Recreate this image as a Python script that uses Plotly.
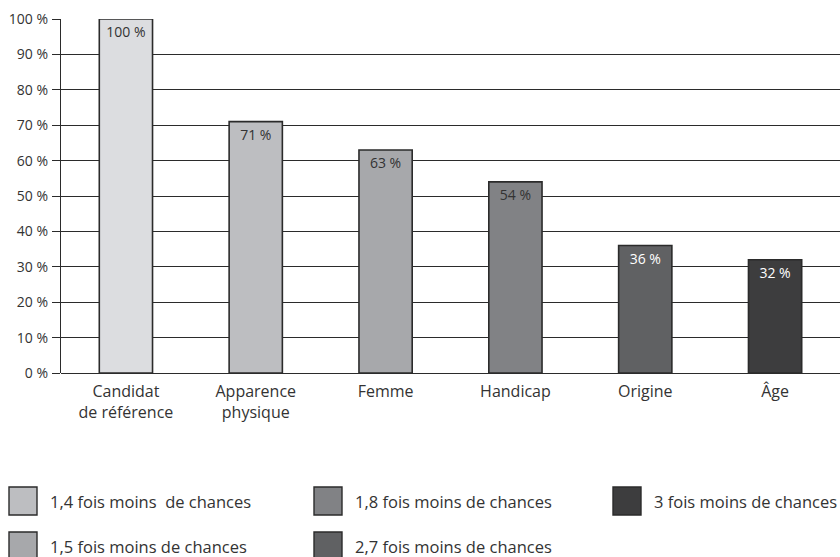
import plotly.graph_objects as go

categories = ["Candidat<br>de référence", "Apparence<br>physique", "Femme", "Handicap", "Origine", "Âge"]
values = [100, 71, 63, 54, 36, 32]
value_labels = ["100 %", "71 %", "63 %", "54 %", "36 %", "32 %"]
bar_colors = ["#dcdde0", "#bdbec1", "#a7a8ab", "#818285", "#606163", "#3d3d3e"]
text_colors = ["#333333", "#333333", "#333333", "#333333", "#ffffff", "#ffffff"]
y_tick_vals = [0, 10, 20, 30, 40, 50, 60, 70, 80, 90, 100]
y_tick_text = ["0 %", "10 %", "20 %", "30 %", "40 %", "50 %", "60 %", "70 %", "80 %", "90 %", "100 %"]
legend_labels = ["1,4 fois moins  de chances", "1,5 fois moins de chances",
                 "1,8 fois moins de chances", "2,7 fois moins de chances",
                 "3 fois moins de chances"]
legend_colors = ["#bdbec1", "#a7a8ab", "#818285", "#606163", "#3d3d3e"]

FONT = "Open Sans"
W, H = 840, 557
ML, MR, MT, MB = 61, 0, 19, 184
PW, PH = W - ML - MR, H - MT - MB


def px(x):
    return (x - ML) / PW


def py(y):
    return (H - MB - y) / PH


fig = go.Figure()
fig.add_trace(go.Bar(
    x=categories, y=values, text=value_labels,
    textposition="inside", insidetextanchor="end", textangle=0,
    constraintext="none",
    textfont=dict(family=FONT, size=14, color=text_colors),
    marker=dict(color=bar_colors, line=dict(color="#2b2b2b", width=1.6)),
    width=0.41, showlegend=False, hoverinfo="skip",
))

# legend drawn as boxes + labels (3 columns x 2 rows)
col_x = [9, 314, 613]
row_y = [487, 532]
box = 28
shapes, annots = [], []
for i, (lab, col) in enumerate(zip(legend_labels, legend_colors)):
    c, r = i // 2, i % 2
    x0, y0 = col_x[c], row_y[r]
    shapes.append(dict(type="rect", xref="paper", yref="paper",
                       x0=px(x0), x1=px(x0 + box), y0=py(y0 + box), y1=py(y0),
                       fillcolor=col, line=dict(color="#2b2b2b", width=1.4)))
    annots.append(dict(xref="paper", yref="paper", x=px(x0 + box + 11), y=py(y0 + box / 2),
                       xanchor="left", yanchor="middle", showarrow=False, text=lab,
                       font=dict(family=FONT, size=16.5, color="#333333")))

fig.update_layout(
    width=W, height=H,
    margin=dict(l=ML, r=MR, t=MT, b=MB),
    paper_bgcolor="white", plot_bgcolor="white",
    bargap=0.59,
    shapes=shapes, annotations=annots,
    xaxis=dict(range=[-0.5, 5.5], showgrid=False, showline=False, ticks="",
               tickfont=dict(family=FONT, size=16, color="#333333"),
               ticklabelstandoff=7),
    yaxis=dict(range=[0, 100], tickvals=y_tick_vals, ticktext=y_tick_text,
               showgrid=True, gridcolor="#2b2b2b", gridwidth=1.4,
               showline=True, linecolor="#2b2b2b", linewidth=1.4,
               ticks="outside", ticklen=8, tickcolor="#2b2b2b", tickwidth=1.4,
               zeroline=True, zerolinecolor="#2b2b2b", zerolinewidth=1.4,
               ticklabelstandoff=1,
               tickfont=dict(family=FONT, size=14, color="#333333")),
)

fig.write_html("out.html")
